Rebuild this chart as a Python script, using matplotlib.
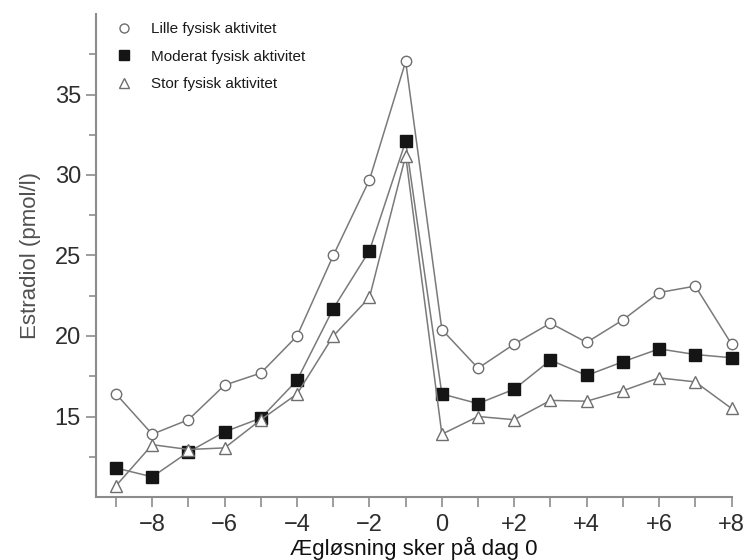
import matplotlib.pyplot as plt
from matplotlib.lines import Line2D
from matplotlib.ticker import FixedLocator

plt.rcParams['font.family'] = ['Liberation Sans', 'DejaVu Sans']

# Days relative to ovulation
days = [-9, -8, -7, -6, -5, -4, -3, -2, -1, 0, 1, 2, 3, 4, 5, 6, 7, 8]

# Estradiol (pmol/l) per activity group
lille = [16.4, 13.9, 14.8, 16.95, 17.7, 20.0, 25.0, 29.7, 37.05,
         20.4, 18.0, 19.5, 20.8, 19.6, 21.0, 22.7, 23.1, 19.5]
moderat = [11.8, 11.25, 12.8, 14.05, 14.9, 17.25, 21.7, 25.3, 32.1,
           16.4, 15.8, 16.7, 18.5, 17.55, 18.4, 19.2, 18.85, 18.65]
stor = [10.7, 13.25, 12.95, 13.05, 14.8, 16.4, 20.0, 22.4, 31.2,
        13.9, 15.0, 14.8, 16.0, 15.95, 16.6, 17.4, 17.15, 15.5]

labels = ['Lille fysisk aktivitet', 'Moderat fysisk aktivitet', 'Stor fysisk aktivitet']
xtick_vals = [-8, -6, -4, -2, 0, 2, 4, 6, 8]
xtick_text = ['\u22128', '\u22126', '\u22124', '\u22122', '0', '+2', '+4', '+6', '+8']

fig = plt.figure(figsize=(7.51, 5.6), dpi=100)
ax = fig.add_axes([0.128, 0.1125, 0.847, 0.8625])

line_c = '#7a7a7a'
styles = [
    dict(marker='o', ms=7.5, mfc='white', mec='#6e6e6e', mew=1.0),
    dict(marker='s', ms=9, mfc='#151515', mec='#151515', mew=1.0),
    dict(marker='^', ms=8, mfc='white', mec='#6e6e6e', mew=1.0),
]

for series, st in zip([lille, moderat, stor], styles):
    ax.plot(days, series, color=line_c, lw=1.1, zorder=2, clip_on=False, **st)

ax.set_xlim(-9.55, 8.02)
ax.set_ylim(10, 40)

ax.spines['top'].set_visible(False)
ax.spines['right'].set_visible(False)
for s in ['left', 'bottom']:
    ax.spines[s].set_color('#8c8c8c')
    ax.spines[s].set_linewidth(1.5)

ax.yaxis.set_major_locator(FixedLocator([15, 20, 25, 30, 35]))
ax.yaxis.set_minor_locator(FixedLocator([12.5, 17.5, 22.5, 27.5, 32.5, 37.5]))
ax.xaxis.set_major_locator(FixedLocator(xtick_vals))
ax.xaxis.set_minor_locator(FixedLocator([-9, -7, -5, -3, -1, 1, 3, 5, 7]))
ax.set_xticklabels(xtick_text)

ax.tick_params(axis='both', which='major', length=7, width=1.2, color='#8c8c8c',
               labelsize=17, labelcolor='#2e2e2e', pad=4)
ax.tick_params(axis='both', which='minor', length=5, width=1.2, color='#8c8c8c')
ax.tick_params(axis='x', which='major', length=7, pad=5)
ax.tick_params(axis='x', which='minor', length=7)

ax.set_ylabel('Estradiol (pmol/l)', fontsize=16, color='#505050', labelpad=10)
ax.set_xlabel('Ægløsning sker på dag 0', fontsize=16, color='#111111', labelpad=1)

handles = [Line2D([], [], ls='none', **st) for st in styles]
handles[0].set_markersize(6.5)
handles[1].set_markersize(7.5)
handles[2].set_markersize(6.5)
leg = ax.legend(handles, labels, loc='upper left', bbox_to_anchor=(0.01, 1.012),
                frameon=False, fontsize=11, handlelength=1.0, handletextpad=1.3,
                labelspacing=0.9)
for t in leg.get_texts():
    t.set_color('#1a1a1a')

fig.savefig('out.png', dpi=100)
